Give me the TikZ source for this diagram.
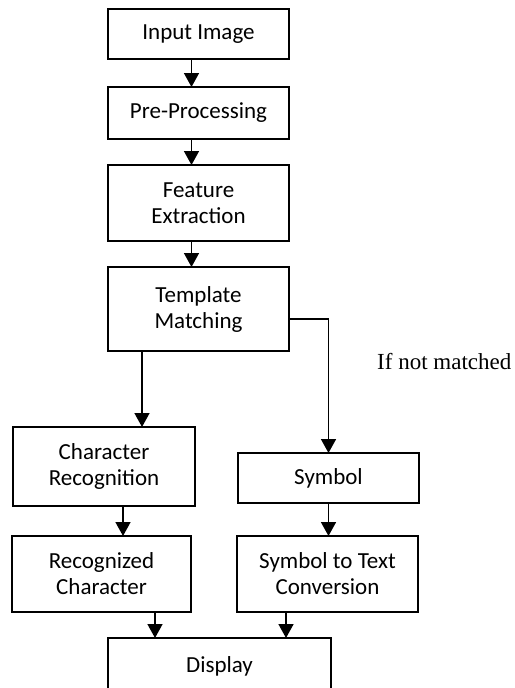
\documentclass[tikz,border=0pt]{standalone}
\usepackage{fontspec}
\setmainfont{Carlito}
\newfontfamily\notefont{Liberation Serif}
\usepackage{tikz}
\usetikzlibrary{positioning,arrows.meta}
\tikzset{ %
  ,>={Triangle[width=15pt,length=14pt]}
  ,every node/.style={font=\fontsize{23}{26}\selectfont}
  ,stage/.style={draw, rectangle, line width=1.6pt, outer sep=0, inner sep=0, align=center, minimum width=181pt}
  ,flow/.style={->, line width=1.6pt}
  ,note/.style={font=\notefont\fontsize{23}{26}\selectfont, inner sep=0}
}
\begin{document}
\begin{tikzpicture}[x=1pt,y=-1pt]
      \useasboundingbox (0,0) rectangle (514,688);
      \draw 
      node[stage, minimum height=50pt] (IN) at (198.5,34) {Input Image} 
      node[stage, minimum height=52pt, below=28pt of IN] (PP) {Pre-Processing} 
      node[stage, minimum height=76pt, below=26pt of PP] (FE) {Feature\\Extraction} 
      node[stage, minimum height=84pt, below=26pt of FE] (TM) {Template\\Matching} 
      node[stage, minimum height=79pt, minimum width=182pt, below=76pt of TM, xshift=-94.5pt] (CR) {Character\\Recognition} 
      node[stage, minimum height=50pt, right=43pt of CR, yshift=-11.5pt] (SY) {Symbol} 
      node[stage, minimum height=76pt, minimum width=179pt, below=30pt of CR, xshift=-2.5pt] (RC) {Recognized\\Character} 
      node[stage, minimum height=76pt, below=33pt of SY, xshift=-1pt] (ST) {Symbol to Text\\Conversion} 
      node[stage, minimum height=58pt, minimum width=223pt, below=26pt of RC, xshift=118pt] (DS) {\raisebox{5pt}{Display}} 
      node[note, anchor=base west] (NM) at (377,369) {If not matched};
      \path ([xshift=-7pt]IN.south) edge[flow] ([xshift=-7pt]PP.north) 
      ([xshift=-7pt]PP.south) edge[flow] ([xshift=-7pt]FE.north) 
      ([xshift=-7pt]FE.south) edge[flow] ([xshift=-7pt]TM.north) 
      ([xshift=-56.5pt]TM.south) edge[flow] ([xshift=-56.5pt]TM.south |- CR.north) 
      ([xshift=19pt]CR.south) edge[flow] ([xshift=19pt]CR.south |- RC.north) 
      (SY.south) edge[flow] (SY.south |- ST.north) 
      ([xshift=53.5pt]RC.south) edge[flow] ([xshift=53.5pt]RC.south |- DS.north) 
      ([xshift=-41.5pt]ST.south) edge[flow] ([xshift=-41.5pt]ST.south |- DS.north);
      \draw [flow] ([yshift=-10pt]TM.east) -| (SY.north);
    \end{tikzpicture}
\end{document}
